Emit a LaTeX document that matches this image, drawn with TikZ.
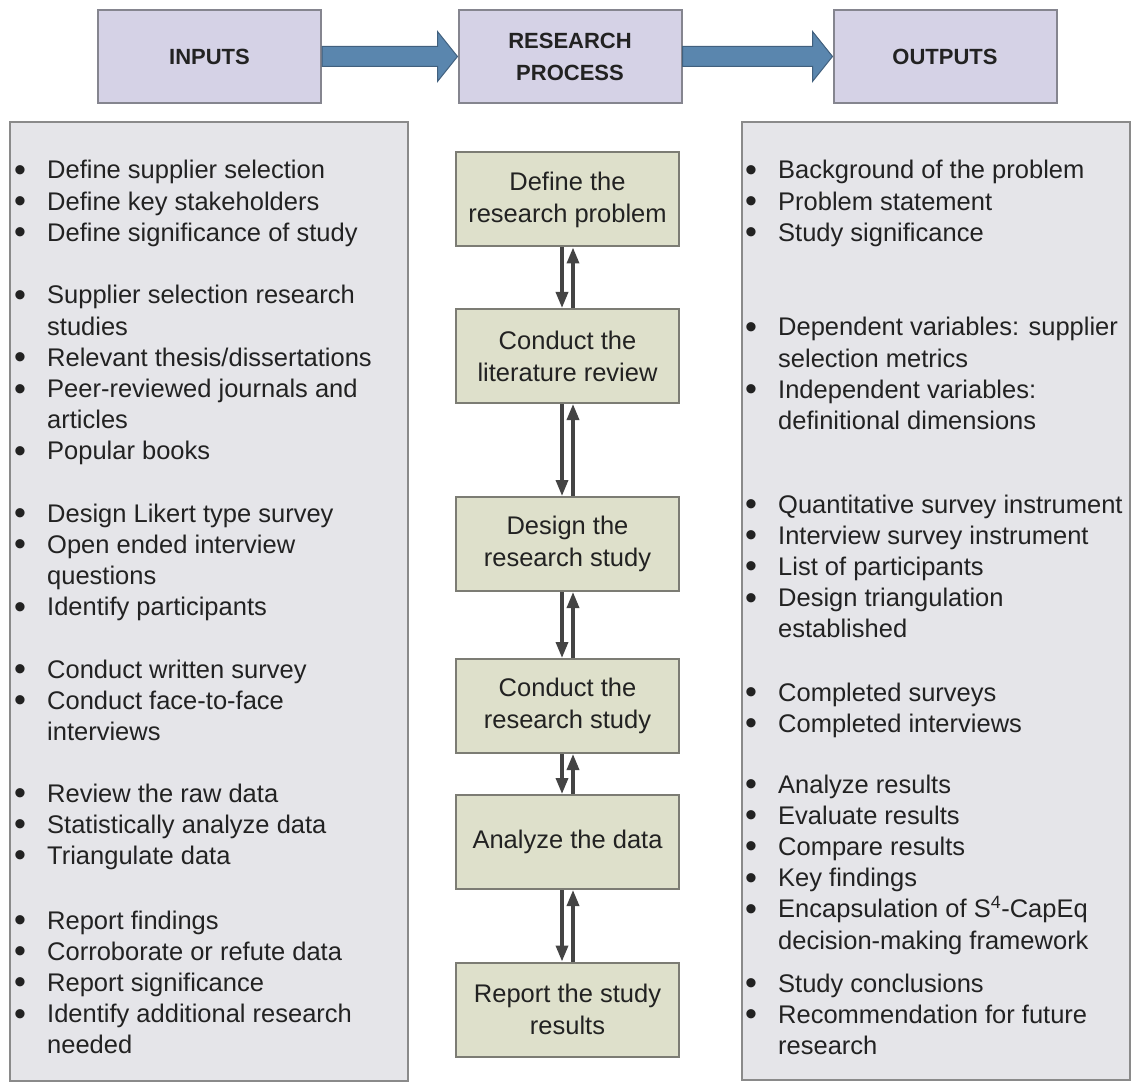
\documentclass[tikz,border=0pt]{standalone}
\usepackage{fontspec}
\setmainfont{Liberation Sans}
\usetikzlibrary{arrows.meta,calc}

\definecolor{headfill}{HTML}{D5D2E6}
\definecolor{headdraw}{HTML}{85858F}
\definecolor{arrowfill}{HTML}{5A86AE}
\definecolor{arrowdraw}{HTML}{41607E}
\definecolor{panelfill}{HTML}{E5E5E9}
\definecolor{paneldraw}{HTML}{8A8A8A}
\definecolor{stepfill}{HTML}{DEE0CB}
\definecolor{stepdraw}{HTML}{7C7C74}
\definecolor{flowcol}{HTML}{444444}
\definecolor{inkcol}{HTML}{222222}

% bullet item: a large dot hangs to the left of the text column
\newcommand\bitem[1]{\llap{\makebox[33pt][l]{\raisebox{-2.5pt}{\fontsize{34}{0}\selectfont\textbullet}}}#1}
% bullet list block; first row's baseline is the node's base
\newcommand\blist[1]{\renewcommand\arraystretch{1}%
  \begin{tabular}[t]{@{}l@{}}#1\end{tabular}}

\tikzset{
  headbox/.style={draw=headdraw, line width=2pt, fill=headfill,
    minimum width=223pt, minimum height=93pt, align=center, text=inkcol,
    font=\fontsize{22}{32}\selectfont\bfseries},
  bigarrow/.style={fill=arrowfill, draw=arrowdraw, line width=1pt},
  panelbox/.style={draw=paneldraw, line width=2pt, fill=panelfill,
    anchor=north west, inner sep=0pt},
  stepbox/.style={draw=stepdraw, line width=2pt, fill=stepfill,
    minimum width=223pt, minimum height=94pt, align=center, text=inkcol,
    font=\fontsize{25.5}{32}\selectfont},
  listtext/.style={anchor=base west, inner sep=0pt, text=inkcol,
    font=\fontsize{25.5}{31.2}\selectfont},
  flow/.style={draw=flowcol, line width=3.4pt,
    -{Triangle[length=16pt,width=12pt]}},
}

\begin{document}
\begin{tikzpicture}[x=1pt,y=-1pt]
\useasboundingbox (0,0) rectangle (1138,1083);

% header row
\node[headbox] (inh) at (209.5,56.5) {INPUTS};
\node[headbox] (rph) at (570,56.5) {RESEARCH\\PROCESS};
\node[headbox] (outh) at (945,56.5) {OUTPUTS};

\path[bigarrow] ($(inh.east)+(0,-10)$) -- ($(rph.west)+(-20,-10)$)
  -- ($(rph.west)+(-20,-25)$) -- (rph.west) -- ($(rph.west)+(-20,25)$)
  -- ($(rph.west)+(-20,10)$) -- ($(inh.east)+(0,10)$) -- cycle;
\path[bigarrow] ($(rph.east)+(0,-10)$) -- ($(outh.west)+(-20,-10)$)
  -- ($(outh.west)+(-20,-25)$) -- (outh.west) -- ($(outh.west)+(-20,25)$)
  -- ($(outh.west)+(-20,10)$) -- ($(rph.east)+(0,10)$) -- cycle;

% side panels
\node[panelbox, minimum width=398pt, minimum height=959pt] (inpanel) at (9,121) {};
\node[panelbox, minimum width=388pt, minimum height=958pt] (outpanel) at (741,121) {};

% inputs
\node[listtext] (in1) at (47,179) {\blist{
  \bitem{Define supplier selection}\\
  \bitem{Define key stakeholders}\\
  \bitem{Define significance of study}}};
\node[listtext] (in2) at (47,304) {\blist{
  \bitem{Supplier selection research}\\
  studies\\
  \bitem{Relevant thesis/dissertations}\\
  \bitem{Peer-reviewed journals and}\\
  articles\\
  \bitem{Popular books}}};
\node[listtext] (in3) at (47,522) {\blist{
  \bitem{Design Likert type survey}\\
  \bitem{Open ended interview}\\
  questions\\
  \bitem{Identify participants}}};
\node[listtext] (in4) at (47,678) {\blist{
  \bitem{Conduct written survey}\\
  \bitem{Conduct face-to-face}\\
  interviews}};
\node[listtext] (in5) at (47,802) {\blist{
  \bitem{Review the raw data}\\
  \bitem{Statistically analyze data}\\
  \bitem{Triangulate data}}};
\node[listtext] (in6) at (47,929) {\blist{
  \bitem{Report findings}\\
  \bitem{Corroborate or refute data}\\
  \bitem{Report significance}\\
  \bitem{Identify additional research}\\
  needed}};

% outputs
\node[listtext] (out1) at (778,179) {\blist{
  \bitem{Background of the problem}\\
  \bitem{Problem statement}\\
  \bitem{Study significance}}};
\node[listtext] (out2) at (778,336) {\blist{
  \bitem{Dependent variables: supplier}\\
  selection metrics\\
  \bitem{Independent variables:}\\
  definitional dimensions}};
\node[listtext] (out3) at (778,513) {\blist{
  \bitem{Quantitative survey instrument}\\
  \bitem{Interview survey instrument}\\
  \bitem{List of participants}\\
  \bitem{Design triangulation}\\
  established}};
\node[listtext] (out4) at (778,701) {\blist{
  \bitem{Completed surveys}\\
  \bitem{Completed interviews}}};
\node[listtext] (out5) at (778,793) {\blist{
  \bitem{Analyze results}\\
  \bitem{Evaluate results}\\
  \bitem{Compare results}\\
  \bitem{Key findings}\\
  \bitem{Encapsulation of S\textsuperscript{4}-CapEq}\\
  decision-making framework}};
\node[listtext] (out6) at (778,992) {\blist{
  \bitem{Study conclusions}\\
  \bitem{Recommendation for future}\\
  research}};

% research process steps
\node[stepbox] (s1) at (567.5,199.5) {Define the\\research problem};
\node[stepbox] (s2) at (567.5,356) {Conduct the\\literature review};
\node[stepbox] (s3) at (567.5,544) {Design the\\research study};
\node[stepbox] (s4) at (567.5,706) {Conduct the\\research study};
\node[stepbox] (s5) at (567.5,842) {Analyze the data};
\node[stepbox] (s6) at (567.5,1009.5) {Report the study\\results};

% two-way links between consecutive steps
\foreach \a/\b in {s1/s2,s2/s3,s3/s4,s4/s5,s5/s6}{
  \draw[flow] ([xshift=-5.5pt]\a.south) -- ([xshift=-5.5pt]\b.north);
  \draw[flow] ([xshift=5.5pt]\b.north) -- ([xshift=5.5pt]\a.south);
}
\end{tikzpicture}
\end{document}
